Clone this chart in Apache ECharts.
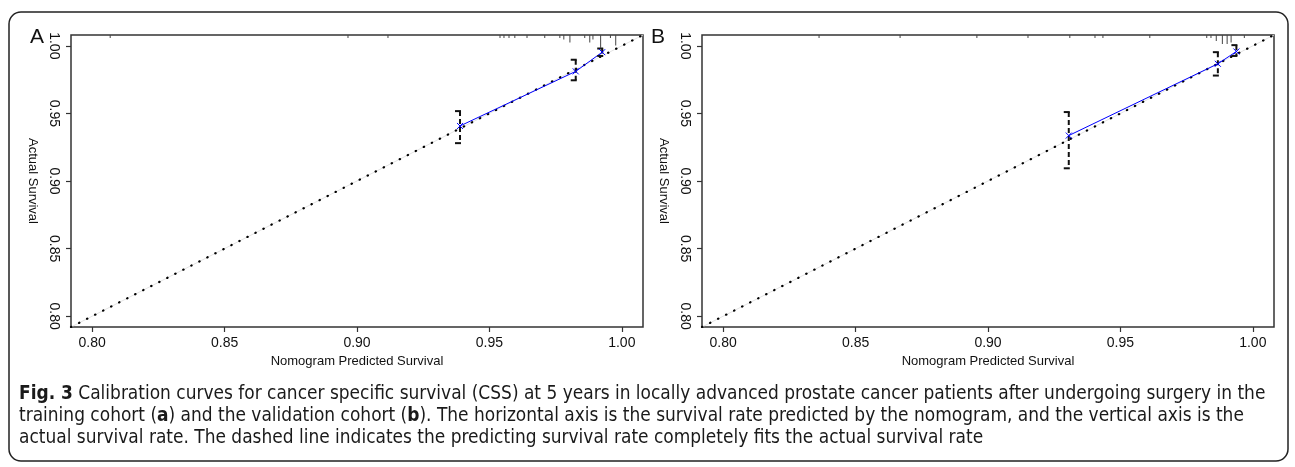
<!DOCTYPE html>
<html>
<head>
<meta charset="utf-8">
<script src="https://cdn.jsdelivr.net/npm/echarts@6/dist/echarts.min.js"></script>
<style>
html,body{margin:0;padding:0;background:#fff;}
#chart{width:1295px;height:467px;}
</style>
</head>
<body>
<div id="chart"></div>
<script>
// ---------------- data ----------------
const tickValues = [0.80, 0.85, 0.90, 0.95, 1.00];
const axisMin = 0.792, axisMax = 1.008;
const diagonal = [0.792, 1.008];

// Panel A (training cohort)
const predA = [0.9389, 0.9826, 0.9926];
const obsA  = [0.9407, 0.9811, 0.9953];
const lowA  = [0.9280, 0.9745, 0.9925];
const highA = [0.9517, 0.9897, 0.9980];
const rugA = [[0.8068,2],[0.8966,2],[0.9117,2],[0.9540,2],[0.9555,2],[0.9574,2],[0.9596,2],[0.9642,2],
              [0.9709,2],[0.9766,2],[0.9781,3],[0.9804,5],[0.9860,2],[0.9879,5],[0.9891,3],[0.9920,9],
              [0.9957,2],[0.9977,7]];

// Panel B (validation cohort)
const predB = [0.9305, 0.9868, 0.9938];
const obsB  = [0.9336, 0.9867, 0.9958];
const lowB  = [0.9094, 0.9780, 0.9925];
const highB = [0.9510, 0.9953, 1.0005];
const rugB = [[0.8362,2],[0.8668,2],[0.8958,2],[0.9151,2],[0.9309,2],[0.9404,2],[0.9434,2],[0.9611,2],
              [0.9826,2],[0.9842,2],[0.9862,4],[0.9885,6],[0.9903,6],[0.9918,5],[0.9968,2]];

const panelLabels = ['A', 'B'];
const xName = 'Nomogram Predicted Survival';
const yName = 'Actual Survival';
const captionLines = [
  '{b|Fig. 3} Calibration curves for cancer specific survival (CSS) at 5 years in locally advanced prostate cancer patients after undergoing surgery in the',
  'training cohort ({b|a}) and the validation cohort ({b|b}). The horizontal axis is the survival rate predicted by the nomogram, and the vertical axis is the',
  'actual survival rate. The dashed line indicates the predicting survival rate completely fits the actual survival rate'
];

// ---------------- fonts ----------------
function fontAvailable(name){
  const c = document.createElement('canvas').getContext('2d');
  const s = 'abcdefghijklmnopqrstuvwxyz ABCDEFG 0123456789';
  c.font = '20px monospace'; const w1 = c.measureText(s).width;
  c.font = '20px "' + name + '", monospace'; const w2 = c.measureText(s).width;
  return Math.abs(w1 - w2) > 0.5;
}
let capFamily = 'Liberation Sans';
if (fontAvailable('Liberation Sans Narrow')) capFamily = 'Liberation Sans Narrow';
else if (fontAvailable('DejaVu Sans Condensed')) capFamily = 'DejaVu Sans Condensed';
const mctx = document.createElement('canvas').getContext('2d');
mctx.font = '20px "' + capFamily + '"';
const plain1 = captionLines[0].replace(/\{b\|([^}]*)\}/g, '$1');
const w20 = mctx.measureText(plain1).width + 3;
const capSize = Math.min(19, 20 * 1242 / w20);

const axFont = 'Liberation Sans';

// ---------------- render helpers ----------------
function errRender(params, api){
  const x = api.value(0), lo = api.value(1), hi = api.value(2);
  const pLo = api.coord([x, lo]), pHi = api.coord([x, hi]);
  const st = {stroke:'#111', lineWidth:2};
  return {type:'group', children:[
    {type:'line', shape:{x1:pHi[0], y1:pHi[1], x2:pLo[0], y2:pLo[1]}, style:{stroke:'#111', lineWidth:2, lineDash:[5,3]}},
    {type:'line', shape:{x1:pHi[0]-5, y1:pHi[1], x2:pHi[0]+1, y2:pHi[1]}, style:st},
    {type:'line', shape:{x1:pLo[0]-5, y1:pLo[1], x2:pLo[0]+1, y2:pLo[1]}, style:st}
  ]};
}
function xMarkRender(params, api){
  const p = api.coord([api.value(0), api.value(1)]);
  const s = 3;
  const st = {stroke:'#0000ff', lineWidth:1};
  return {type:'group', children:[
    {type:'line', shape:{x1:p[0]-s, y1:p[1]-s, x2:p[0]+s, y2:p[1]+s}, style:st},
    {type:'line', shape:{x1:p[0]-s, y1:p[1]+s, x2:p[0]+s, y2:p[1]-s}, style:st}
  ]};
}
function rugRender(params, api){
  const p = api.coord([api.value(0), api.value(1)]);
  const n = api.value(2);
  return {type:'line', shape:{x1:p[0], y1:p[1], x2:p[0], y2:p[1] + n*1.5}, style:{stroke:'#444', lineWidth:1}};
}

function xAxisFor(gi){
  return {
    gridIndex:gi, type:'value', min:axisMin, max:axisMax,
    splitLine:{show:false}, axisLine:{show:false},
    axisTick:{show:true, length:5, customValues:tickValues, lineStyle:{color:'#333', width:1.2}},
    axisLabel:{customValues:tickValues, formatter:v => v.toFixed(2), fontSize:14, color:'#111', margin:9, fontFamily:axFont},
    name:xName, nameLocation:'middle', nameGap:28,
    nameTextStyle:{fontSize:13, fontFamily:axFont, color:'#111'}
  };
}
function yAxisFor(gi){
  return {
    gridIndex:gi, type:'value', min:axisMin, max:axisMax,
    splitLine:{show:false}, axisLine:{show:false},
    axisTick:{show:true, length:5, customValues:tickValues, lineStyle:{color:'#333', width:1.2}},
    axisLabel:{customValues:tickValues, formatter:v => v.toFixed(2), fontSize:14, color:'#111', margin:10, rotate:-90, fontFamily:axFont},
    name:yName, nameLocation:'middle', nameGap:32, nameRotate:-90,
    nameTextStyle:{fontSize:13, fontFamily:axFont, color:'#111'}
  };
}
function seriesFor(gi, pred, obs, low, high, rug){
  const diag = [[diagonal[0], diagonal[0]], [diagonal[1], diagonal[1]]];
  return [
    {type:'line', xAxisIndex:gi, yAxisIndex:gi, data:diag, symbol:'none', silent:true,
     lineStyle:{color:'#e4e4e4', width:1}, z:1},
    {type:'line', xAxisIndex:gi, yAxisIndex:gi, data:diag, symbol:'none', silent:true,
     lineStyle:{color:'#000', width:2.2, type:[0.4,8.6], cap:'round'}, z:2},
    {type:'line', xAxisIndex:gi, yAxisIndex:gi, data:pred.map((p,i) => [p, obs[i]]), symbol:'none', silent:true,
     lineStyle:{color:'#0000ff', width:1}, z:3},
    {type:'custom', xAxisIndex:gi, yAxisIndex:gi, renderItem:errRender, silent:true, z:4,
     data:pred.map((p,i) => [p, low[i], high[i]]), encode:{x:0, y:[1,2]}},
    {type:'custom', xAxisIndex:gi, yAxisIndex:gi, renderItem:xMarkRender, silent:true, z:5,
     data:pred.map((p,i) => [p, obs[i]]), encode:{x:0, y:1}},
    {type:'custom', xAxisIndex:gi, yAxisIndex:gi, renderItem:rugRender, silent:true, z:6,
     data:rug.map(r => [r[0], axisMax, r[1]]), encode:{x:0, y:1}}
  ];
}

const chart = echarts.init(document.getElementById('chart'), null, {renderer:'canvas'});
const capRich = {b:{fontWeight:'bold', fontSize:capSize, fontFamily:capFamily, fill:'#1a1a1a'}};
const captionY = [394, 416, 438];

chart.setOption({
  backgroundColor:'#fff',
  animation:false,
  grid:[
    {left:71, top:35, width:572, height:292, show:true, borderColor:'#333', borderWidth:1.5, backgroundColor:'transparent'},
    {left:702, top:35, width:572, height:292, show:true, borderColor:'#333', borderWidth:1.5, backgroundColor:'transparent'}
  ],
  xAxis:[xAxisFor(0), xAxisFor(1)],
  yAxis:[yAxisFor(0), yAxisFor(1)],
  series:[].concat(
    seriesFor(0, predA, obsA, lowA, highA, rugA),
    seriesFor(1, predB, obsB, lowB, highB, rugB)
  ),
  graphic:[
    {type:'rect', shape:{x:9, y:12, width:1279, height:449, r:12}, style:{fill:'none', stroke:'#222', lineWidth:1.5}, silent:true},
    {type:'text', x:37, y:37, style:{text:panelLabels[0], fontSize:21, fontFamily:axFont, fill:'#111', align:'center', verticalAlign:'middle'}},
    {type:'text', x:658, y:37, style:{text:panelLabels[1], fontSize:21, fontFamily:axFont, fill:'#111', align:'center', verticalAlign:'middle'}}
  ].concat(captionLines.map((t, i) => ({
    type:'text', x:19, y:captionY[i],
    style:{text:t, fontSize:capSize, fontFamily:capFamily, fill:'#1a1a1a', align:'left', verticalAlign:'middle', rich:capRich}
  })))
});
</script>
</body>
</html>
